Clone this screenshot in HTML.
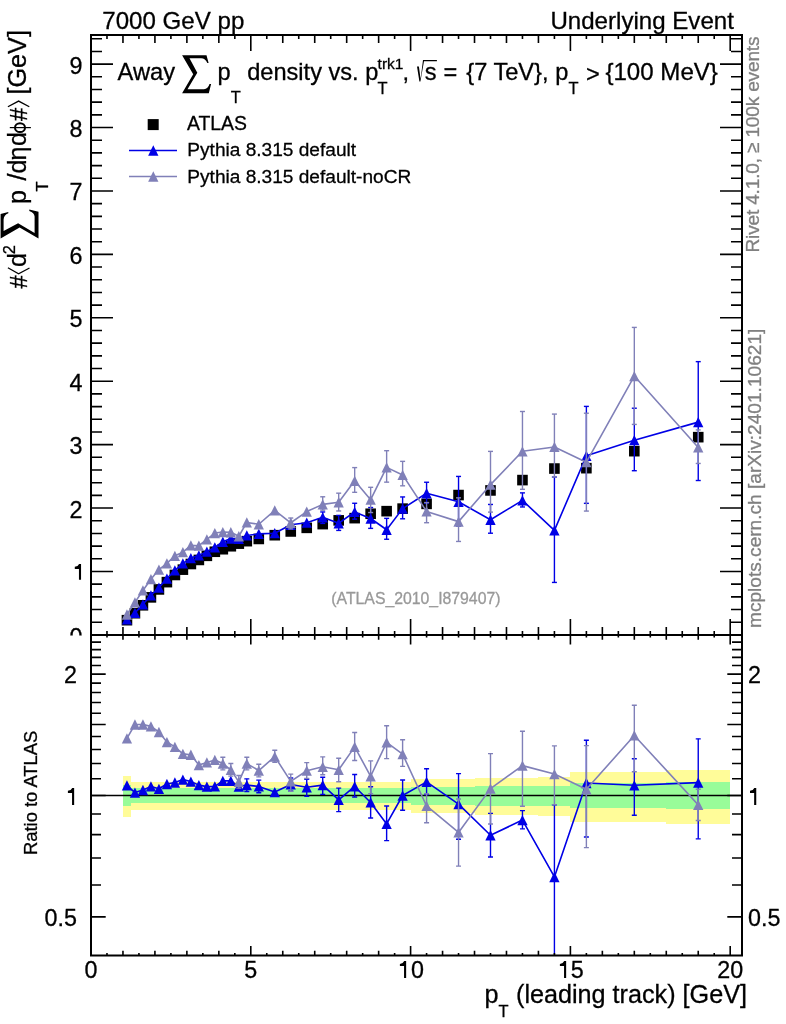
<!DOCTYPE html><html><head><meta charset="utf-8"><style>html,body{margin:0;padding:0;background:#fff;width:786px;height:1024px;overflow:hidden;position:relative}text{font-family:"Liberation Sans", sans-serif}</style></head><body><svg width="786" height="1024" viewBox="0 0 786 1024" style="position:absolute;left:0;top:0;will-change:transform"><defs><clipPath id="cm"><rect x="91" y="35" width="651" height="600"/></clipPath><clipPath id="cr"><rect x="91" y="635" width="651" height="320.5"/></clipPath></defs><g clip-path="url(#cr)" shape-rendering="crispEdges"><rect x="122.96" y="776.20" width="7.99" height="40.40" fill="#fffc99"/><rect x="130.95" y="782.10" width="7.99" height="27.60" fill="#fffc99"/><rect x="138.94" y="782.10" width="7.99" height="27.60" fill="#fffc99"/><rect x="146.93" y="782.10" width="7.99" height="27.60" fill="#fffc99"/><rect x="154.92" y="782.10" width="7.99" height="27.60" fill="#fffc99"/><rect x="162.91" y="782.10" width="7.99" height="27.60" fill="#fffc99"/><rect x="170.90" y="782.10" width="7.99" height="27.60" fill="#fffc99"/><rect x="178.89" y="782.10" width="7.99" height="27.60" fill="#fffc99"/><rect x="186.88" y="782.10" width="7.99" height="27.60" fill="#fffc99"/><rect x="194.87" y="782.10" width="7.99" height="27.60" fill="#fffc99"/><rect x="202.86" y="782.10" width="7.99" height="27.60" fill="#fffc99"/><rect x="210.85" y="782.10" width="7.99" height="27.60" fill="#fffc99"/><rect x="218.84" y="782.10" width="7.99" height="27.60" fill="#fffc99"/><rect x="226.83" y="782.10" width="7.99" height="27.60" fill="#fffc99"/><rect x="234.82" y="782.10" width="7.99" height="27.60" fill="#fffc99"/><rect x="242.81" y="782.10" width="7.99" height="27.60" fill="#fffc99"/><rect x="250.80" y="782.10" width="15.98" height="27.60" fill="#fffc99"/><rect x="266.78" y="782.10" width="15.98" height="27.60" fill="#fffc99"/><rect x="282.76" y="782.10" width="15.98" height="27.60" fill="#fffc99"/><rect x="298.74" y="782.10" width="15.98" height="27.60" fill="#fffc99"/><rect x="314.72" y="782.10" width="15.98" height="27.60" fill="#fffc99"/><rect x="330.70" y="782.10" width="15.98" height="27.60" fill="#fffc99"/><rect x="346.68" y="782.10" width="15.98" height="27.60" fill="#fffc99"/><rect x="362.66" y="782.10" width="15.98" height="27.60" fill="#fffc99"/><rect x="378.64" y="782.10" width="15.98" height="27.60" fill="#fffc99"/><rect x="394.62" y="782.10" width="15.98" height="27.60" fill="#fffc99"/><rect x="410.60" y="779.40" width="31.96" height="33.20" fill="#fffc99"/><rect x="442.56" y="778.70" width="31.96" height="34.50" fill="#fffc99"/><rect x="474.52" y="777.90" width="31.96" height="36.60" fill="#fffc99"/><rect x="506.48" y="777.90" width="31.96" height="36.60" fill="#fffc99"/><rect x="538.44" y="777.00" width="31.96" height="38.70" fill="#fffc99"/><rect x="570.40" y="772.30" width="31.96" height="49.50" fill="#fffc99"/><rect x="602.36" y="772.30" width="63.92" height="49.50" fill="#fffc99"/><rect x="666.28" y="770.20" width="63.92" height="54.20" fill="#fffc99"/><rect x="122.96" y="785.00" width="7.99" height="20.50" fill="#99fc99"/><rect x="130.95" y="788.40" width="7.99" height="14.20" fill="#99fc99"/><rect x="138.94" y="788.40" width="7.99" height="14.20" fill="#99fc99"/><rect x="146.93" y="788.40" width="7.99" height="14.20" fill="#99fc99"/><rect x="154.92" y="788.40" width="7.99" height="14.20" fill="#99fc99"/><rect x="162.91" y="788.40" width="7.99" height="14.20" fill="#99fc99"/><rect x="170.90" y="788.40" width="7.99" height="14.20" fill="#99fc99"/><rect x="178.89" y="788.40" width="7.99" height="14.20" fill="#99fc99"/><rect x="186.88" y="788.40" width="7.99" height="14.20" fill="#99fc99"/><rect x="194.87" y="788.40" width="7.99" height="14.20" fill="#99fc99"/><rect x="202.86" y="788.40" width="7.99" height="14.20" fill="#99fc99"/><rect x="210.85" y="788.40" width="7.99" height="14.20" fill="#99fc99"/><rect x="218.84" y="788.40" width="7.99" height="14.20" fill="#99fc99"/><rect x="226.83" y="788.40" width="7.99" height="14.20" fill="#99fc99"/><rect x="234.82" y="788.40" width="7.99" height="14.20" fill="#99fc99"/><rect x="242.81" y="788.40" width="7.99" height="14.20" fill="#99fc99"/><rect x="250.80" y="788.40" width="15.98" height="14.20" fill="#99fc99"/><rect x="266.78" y="788.40" width="15.98" height="14.20" fill="#99fc99"/><rect x="282.76" y="788.40" width="15.98" height="14.20" fill="#99fc99"/><rect x="298.74" y="788.40" width="15.98" height="14.20" fill="#99fc99"/><rect x="314.72" y="788.40" width="15.98" height="14.20" fill="#99fc99"/><rect x="330.70" y="788.40" width="15.98" height="14.20" fill="#99fc99"/><rect x="346.68" y="788.40" width="15.98" height="14.20" fill="#99fc99"/><rect x="362.66" y="788.40" width="15.98" height="14.20" fill="#99fc99"/><rect x="378.64" y="788.40" width="15.98" height="14.20" fill="#99fc99"/><rect x="394.62" y="788.40" width="15.98" height="14.20" fill="#99fc99"/><rect x="410.60" y="786.80" width="31.96" height="18.00" fill="#99fc99"/><rect x="442.56" y="786.60" width="31.96" height="18.40" fill="#99fc99"/><rect x="474.52" y="786.20" width="31.96" height="19.40" fill="#99fc99"/><rect x="506.48" y="786.20" width="31.96" height="19.40" fill="#99fc99"/><rect x="538.44" y="785.50" width="31.96" height="20.50" fill="#99fc99"/><rect x="570.40" y="782.80" width="31.96" height="25.50" fill="#99fc99"/><rect x="602.36" y="782.80" width="63.92" height="25.50" fill="#99fc99"/><rect x="666.28" y="782.40" width="63.92" height="26.70" fill="#99fc99"/></g><line x1="91" y1="795.50" x2="742" y2="795.50" stroke="#000" stroke-width="1.7"/><g clip-path="url(#cr)"><polyline points="126.95,785.46 134.94,792.55 142.94,789.98 150.93,786.45 158.92,788.80 166.91,783.98 174.89,782.51 182.88,779.60 190.88,781.53 198.87,785.13 206.86,786.62 214.84,786.45 222.84,780.89 230.83,780.89 238.81,786.62 246.81,785.13 258.79,786.45 274.77,792.03 290.75,784.47 306.73,787.29 322.71,785.13 338.69,799.93 354.67,786.45 370.65,802.47 386.63,823.97 402.61,795.50 426.58,781.86 458.54,804.12 490.50,835.24 522.46,820.09 554.42,876.98 586.38,783.00 634.32,785.29 698.24,782.67" fill="none" stroke="#0000e6" stroke-width="1.6" stroke-linejoin="round"/><line x1="246.81" y1="778.83" x2="246.81" y2="791.43" stroke="#0000e6" stroke-width="1.4"/><line x1="244.31" y1="778.83" x2="249.31" y2="778.83" stroke="#0000e6" stroke-width="1.4"/><line x1="244.31" y1="791.43" x2="249.31" y2="791.43" stroke="#0000e6" stroke-width="1.4"/><line x1="258.79" y1="780.15" x2="258.79" y2="792.75" stroke="#0000e6" stroke-width="1.4"/><line x1="256.29" y1="780.15" x2="261.29" y2="780.15" stroke="#0000e6" stroke-width="1.4"/><line x1="256.29" y1="792.75" x2="261.29" y2="792.75" stroke="#0000e6" stroke-width="1.4"/><line x1="290.75" y1="778.00" x2="290.75" y2="791.00" stroke="#0000e6" stroke-width="1.4"/><line x1="288.25" y1="778.00" x2="293.25" y2="778.00" stroke="#0000e6" stroke-width="1.4"/><line x1="288.25" y1="791.00" x2="293.25" y2="791.00" stroke="#0000e6" stroke-width="1.4"/><line x1="306.73" y1="779.20" x2="306.73" y2="796.30" stroke="#0000e6" stroke-width="1.4"/><line x1="304.23" y1="779.20" x2="309.23" y2="779.20" stroke="#0000e6" stroke-width="1.4"/><line x1="304.23" y1="796.30" x2="309.23" y2="796.30" stroke="#0000e6" stroke-width="1.4"/><line x1="322.71" y1="777.30" x2="322.71" y2="794.40" stroke="#0000e6" stroke-width="1.4"/><line x1="320.21" y1="777.30" x2="325.21" y2="777.30" stroke="#0000e6" stroke-width="1.4"/><line x1="320.21" y1="794.40" x2="325.21" y2="794.40" stroke="#0000e6" stroke-width="1.4"/><line x1="338.69" y1="788.10" x2="338.69" y2="811.60" stroke="#0000e6" stroke-width="1.4"/><line x1="336.19" y1="788.10" x2="341.19" y2="788.10" stroke="#0000e6" stroke-width="1.4"/><line x1="336.19" y1="811.60" x2="341.19" y2="811.60" stroke="#0000e6" stroke-width="1.4"/><line x1="354.67" y1="774.50" x2="354.67" y2="797.00" stroke="#0000e6" stroke-width="1.4"/><line x1="352.17" y1="774.50" x2="357.17" y2="774.50" stroke="#0000e6" stroke-width="1.4"/><line x1="352.17" y1="797.00" x2="357.17" y2="797.00" stroke="#0000e6" stroke-width="1.4"/><line x1="370.65" y1="786.70" x2="370.65" y2="818.00" stroke="#0000e6" stroke-width="1.4"/><line x1="368.15" y1="786.70" x2="373.15" y2="786.70" stroke="#0000e6" stroke-width="1.4"/><line x1="368.15" y1="818.00" x2="373.15" y2="818.00" stroke="#0000e6" stroke-width="1.4"/><line x1="386.63" y1="806.00" x2="386.63" y2="840.60" stroke="#0000e6" stroke-width="1.4"/><line x1="384.13" y1="806.00" x2="389.13" y2="806.00" stroke="#0000e6" stroke-width="1.4"/><line x1="384.13" y1="840.60" x2="389.13" y2="840.60" stroke="#0000e6" stroke-width="1.4"/><line x1="402.61" y1="780.00" x2="402.61" y2="810.20" stroke="#0000e6" stroke-width="1.4"/><line x1="400.11" y1="780.00" x2="405.11" y2="780.00" stroke="#0000e6" stroke-width="1.4"/><line x1="400.11" y1="810.20" x2="405.11" y2="810.20" stroke="#0000e6" stroke-width="1.4"/><line x1="426.58" y1="768.75" x2="426.58" y2="794.50" stroke="#0000e6" stroke-width="1.4"/><line x1="424.08" y1="768.75" x2="429.08" y2="768.75" stroke="#0000e6" stroke-width="1.4"/><line x1="424.08" y1="794.50" x2="429.08" y2="794.50" stroke="#0000e6" stroke-width="1.4"/><line x1="458.54" y1="773.60" x2="458.54" y2="839.20" stroke="#0000e6" stroke-width="1.4"/><line x1="456.04" y1="773.60" x2="461.04" y2="773.60" stroke="#0000e6" stroke-width="1.4"/><line x1="456.04" y1="839.20" x2="461.04" y2="839.20" stroke="#0000e6" stroke-width="1.4"/><line x1="490.50" y1="813.40" x2="490.50" y2="857.00" stroke="#0000e6" stroke-width="1.4"/><line x1="488.00" y1="813.40" x2="493.00" y2="813.40" stroke="#0000e6" stroke-width="1.4"/><line x1="488.00" y1="857.00" x2="493.00" y2="857.00" stroke="#0000e6" stroke-width="1.4"/><line x1="522.46" y1="810.60" x2="522.46" y2="828.90" stroke="#0000e6" stroke-width="1.4"/><line x1="519.96" y1="810.60" x2="524.96" y2="810.60" stroke="#0000e6" stroke-width="1.4"/><line x1="519.96" y1="828.90" x2="524.96" y2="828.90" stroke="#0000e6" stroke-width="1.4"/><line x1="554.42" y1="804.70" x2="554.42" y2="997.60" stroke="#0000e6" stroke-width="1.4"/><line x1="551.92" y1="804.70" x2="556.92" y2="804.70" stroke="#0000e6" stroke-width="1.4"/><line x1="551.92" y1="997.60" x2="556.92" y2="997.60" stroke="#0000e6" stroke-width="1.4"/><line x1="586.38" y1="740.30" x2="586.38" y2="837.00" stroke="#0000e6" stroke-width="1.4"/><line x1="583.88" y1="740.30" x2="588.88" y2="740.30" stroke="#0000e6" stroke-width="1.4"/><line x1="583.88" y1="837.00" x2="588.88" y2="837.00" stroke="#0000e6" stroke-width="1.4"/><line x1="634.32" y1="758.70" x2="634.32" y2="815.20" stroke="#0000e6" stroke-width="1.4"/><line x1="631.82" y1="758.70" x2="636.82" y2="758.70" stroke="#0000e6" stroke-width="1.4"/><line x1="631.82" y1="815.20" x2="636.82" y2="815.20" stroke="#0000e6" stroke-width="1.4"/><line x1="698.24" y1="738.85" x2="698.24" y2="838.85" stroke="#0000e6" stroke-width="1.4"/><line x1="695.74" y1="738.85" x2="700.74" y2="738.85" stroke="#0000e6" stroke-width="1.4"/><line x1="695.74" y1="838.85" x2="700.74" y2="838.85" stroke="#0000e6" stroke-width="1.4"/><path d="M121.80 790.61L132.10 790.61L126.95 780.31Z" fill="#0000e6"/><path d="M129.79 797.70L140.09 797.70L134.94 787.40Z" fill="#0000e6"/><path d="M137.78 795.13L148.09 795.13L142.94 784.83Z" fill="#0000e6"/><path d="M145.78 791.60L156.08 791.60L150.93 781.30Z" fill="#0000e6"/><path d="M153.77 793.95L164.07 793.95L158.92 783.65Z" fill="#0000e6"/><path d="M161.75 789.13L172.06 789.13L166.91 778.83Z" fill="#0000e6"/><path d="M169.74 787.66L180.04 787.66L174.89 777.36Z" fill="#0000e6"/><path d="M177.73 784.75L188.03 784.75L182.88 774.45Z" fill="#0000e6"/><path d="M185.72 786.68L196.03 786.68L190.88 776.38Z" fill="#0000e6"/><path d="M193.72 790.28L204.02 790.28L198.87 779.98Z" fill="#0000e6"/><path d="M201.71 791.77L212.01 791.77L206.86 781.47Z" fill="#0000e6"/><path d="M209.69 791.60L220.00 791.60L214.84 781.30Z" fill="#0000e6"/><path d="M217.69 786.04L227.99 786.04L222.84 775.74Z" fill="#0000e6"/><path d="M225.68 786.04L235.98 786.04L230.83 775.74Z" fill="#0000e6"/><path d="M233.66 791.77L243.97 791.77L238.81 781.47Z" fill="#0000e6"/><path d="M241.66 790.28L251.96 790.28L246.81 779.98Z" fill="#0000e6"/><path d="M253.64 791.60L263.94 791.60L258.79 781.30Z" fill="#0000e6"/><path d="M269.62 797.18L279.92 797.18L274.77 786.88Z" fill="#0000e6"/><path d="M285.60 789.62L295.90 789.62L290.75 779.32Z" fill="#0000e6"/><path d="M301.58 792.44L311.88 792.44L306.73 782.14Z" fill="#0000e6"/><path d="M317.56 790.28L327.86 790.28L322.71 779.98Z" fill="#0000e6"/><path d="M333.54 805.08L343.84 805.08L338.69 794.78Z" fill="#0000e6"/><path d="M349.52 791.60L359.82 791.60L354.67 781.30Z" fill="#0000e6"/><path d="M365.50 807.62L375.80 807.62L370.65 797.32Z" fill="#0000e6"/><path d="M381.48 829.12L391.78 829.12L386.63 818.82Z" fill="#0000e6"/><path d="M397.46 800.65L407.76 800.65L402.61 790.35Z" fill="#0000e6"/><path d="M421.43 787.01L431.73 787.01L426.58 776.71Z" fill="#0000e6"/><path d="M453.39 809.27L463.69 809.27L458.54 798.97Z" fill="#0000e6"/><path d="M485.35 840.39L495.65 840.39L490.50 830.09Z" fill="#0000e6"/><path d="M517.31 825.24L527.61 825.24L522.46 814.94Z" fill="#0000e6"/><path d="M549.27 882.13L559.57 882.13L554.42 871.83Z" fill="#0000e6"/><path d="M581.23 788.15L591.53 788.15L586.38 777.85Z" fill="#0000e6"/><path d="M629.17 790.44L639.47 790.44L634.32 780.14Z" fill="#0000e6"/><path d="M693.09 787.82L703.39 787.82L698.24 777.52Z" fill="#0000e6"/><polyline points="126.95,738.33 134.94,724.48 142.94,724.48 150.93,726.36 158.92,732.00 166.91,742.03 174.89,746.87 182.88,753.91 190.88,754.74 198.87,765.03 206.86,762.40 214.84,759.95 222.84,763.57 230.83,769.81 238.81,781.86 246.81,763.57 258.79,770.56 274.77,756.56 290.75,781.37 306.73,770.72 322.71,766.81 338.69,769.81 354.67,746.87 370.65,776.28 386.63,742.42 402.61,754.05 426.58,805.97 458.54,832.41 490.50,788.63 522.46,765.62 554.42,774.09 586.38,789.31 634.32,735.44 698.24,804.85" fill="none" stroke="#8080b8" stroke-width="1.6" stroke-linejoin="round"/><line x1="222.84" y1="757.27" x2="222.84" y2="769.87" stroke="#8080b8" stroke-width="1.4"/><line x1="220.34" y1="757.27" x2="225.34" y2="757.27" stroke="#8080b8" stroke-width="1.4"/><line x1="220.34" y1="769.87" x2="225.34" y2="769.87" stroke="#8080b8" stroke-width="1.4"/><line x1="230.83" y1="763.51" x2="230.83" y2="776.11" stroke="#8080b8" stroke-width="1.4"/><line x1="228.33" y1="763.51" x2="233.33" y2="763.51" stroke="#8080b8" stroke-width="1.4"/><line x1="228.33" y1="776.11" x2="233.33" y2="776.11" stroke="#8080b8" stroke-width="1.4"/><line x1="238.81" y1="775.56" x2="238.81" y2="788.16" stroke="#8080b8" stroke-width="1.4"/><line x1="236.31" y1="775.56" x2="241.31" y2="775.56" stroke="#8080b8" stroke-width="1.4"/><line x1="236.31" y1="788.16" x2="241.31" y2="788.16" stroke="#8080b8" stroke-width="1.4"/><line x1="246.81" y1="757.27" x2="246.81" y2="769.87" stroke="#8080b8" stroke-width="1.4"/><line x1="244.31" y1="757.27" x2="249.31" y2="757.27" stroke="#8080b8" stroke-width="1.4"/><line x1="244.31" y1="769.87" x2="249.31" y2="769.87" stroke="#8080b8" stroke-width="1.4"/><line x1="258.79" y1="764.26" x2="258.79" y2="776.86" stroke="#8080b8" stroke-width="1.4"/><line x1="256.29" y1="764.26" x2="261.29" y2="764.26" stroke="#8080b8" stroke-width="1.4"/><line x1="256.29" y1="776.86" x2="261.29" y2="776.86" stroke="#8080b8" stroke-width="1.4"/><line x1="274.77" y1="750.30" x2="274.77" y2="762.30" stroke="#8080b8" stroke-width="1.4"/><line x1="272.27" y1="750.30" x2="277.27" y2="750.30" stroke="#8080b8" stroke-width="1.4"/><line x1="272.27" y1="762.30" x2="277.27" y2="762.30" stroke="#8080b8" stroke-width="1.4"/><line x1="290.75" y1="774.10" x2="290.75" y2="791.20" stroke="#8080b8" stroke-width="1.4"/><line x1="288.25" y1="774.10" x2="293.25" y2="774.10" stroke="#8080b8" stroke-width="1.4"/><line x1="288.25" y1="791.20" x2="293.25" y2="791.20" stroke="#8080b8" stroke-width="1.4"/><line x1="306.73" y1="762.60" x2="306.73" y2="778.50" stroke="#8080b8" stroke-width="1.4"/><line x1="304.23" y1="762.60" x2="309.23" y2="762.60" stroke="#8080b8" stroke-width="1.4"/><line x1="304.23" y1="778.50" x2="309.23" y2="778.50" stroke="#8080b8" stroke-width="1.4"/><line x1="322.71" y1="756.90" x2="322.71" y2="774.70" stroke="#8080b8" stroke-width="1.4"/><line x1="320.21" y1="756.90" x2="325.21" y2="756.90" stroke="#8080b8" stroke-width="1.4"/><line x1="320.21" y1="774.70" x2="325.21" y2="774.70" stroke="#8080b8" stroke-width="1.4"/><line x1="338.69" y1="758.20" x2="338.69" y2="781.70" stroke="#8080b8" stroke-width="1.4"/><line x1="336.19" y1="758.20" x2="341.19" y2="758.20" stroke="#8080b8" stroke-width="1.4"/><line x1="336.19" y1="781.70" x2="341.19" y2="781.70" stroke="#8080b8" stroke-width="1.4"/><line x1="354.67" y1="732.50" x2="354.67" y2="760.50" stroke="#8080b8" stroke-width="1.4"/><line x1="352.17" y1="732.50" x2="357.17" y2="732.50" stroke="#8080b8" stroke-width="1.4"/><line x1="352.17" y1="760.50" x2="357.17" y2="760.50" stroke="#8080b8" stroke-width="1.4"/><line x1="370.65" y1="760.90" x2="370.65" y2="793.75" stroke="#8080b8" stroke-width="1.4"/><line x1="368.15" y1="760.90" x2="373.15" y2="760.90" stroke="#8080b8" stroke-width="1.4"/><line x1="368.15" y1="793.75" x2="373.15" y2="793.75" stroke="#8080b8" stroke-width="1.4"/><line x1="386.63" y1="725.80" x2="386.63" y2="758.60" stroke="#8080b8" stroke-width="1.4"/><line x1="384.13" y1="725.80" x2="389.13" y2="725.80" stroke="#8080b8" stroke-width="1.4"/><line x1="384.13" y1="758.60" x2="389.13" y2="758.60" stroke="#8080b8" stroke-width="1.4"/><line x1="402.61" y1="739.80" x2="402.61" y2="766.40" stroke="#8080b8" stroke-width="1.4"/><line x1="400.11" y1="739.80" x2="405.11" y2="739.80" stroke="#8080b8" stroke-width="1.4"/><line x1="400.11" y1="766.40" x2="405.11" y2="766.40" stroke="#8080b8" stroke-width="1.4"/><line x1="426.58" y1="793.75" x2="426.58" y2="822.70" stroke="#8080b8" stroke-width="1.4"/><line x1="424.08" y1="793.75" x2="429.08" y2="793.75" stroke="#8080b8" stroke-width="1.4"/><line x1="424.08" y1="822.70" x2="429.08" y2="822.70" stroke="#8080b8" stroke-width="1.4"/><line x1="458.54" y1="799.00" x2="458.54" y2="866.10" stroke="#8080b8" stroke-width="1.4"/><line x1="456.04" y1="799.00" x2="461.04" y2="799.00" stroke="#8080b8" stroke-width="1.4"/><line x1="456.04" y1="866.10" x2="461.04" y2="866.10" stroke="#8080b8" stroke-width="1.4"/><line x1="490.50" y1="753.60" x2="490.50" y2="824.00" stroke="#8080b8" stroke-width="1.4"/><line x1="488.00" y1="753.60" x2="493.00" y2="753.60" stroke="#8080b8" stroke-width="1.4"/><line x1="488.00" y1="824.00" x2="493.00" y2="824.00" stroke="#8080b8" stroke-width="1.4"/><line x1="522.46" y1="731.25" x2="522.46" y2="806.25" stroke="#8080b8" stroke-width="1.4"/><line x1="519.96" y1="731.25" x2="524.96" y2="731.25" stroke="#8080b8" stroke-width="1.4"/><line x1="519.96" y1="806.25" x2="524.96" y2="806.25" stroke="#8080b8" stroke-width="1.4"/><line x1="554.42" y1="745.90" x2="554.42" y2="804.70" stroke="#8080b8" stroke-width="1.4"/><line x1="551.92" y1="745.90" x2="556.92" y2="745.90" stroke="#8080b8" stroke-width="1.4"/><line x1="551.92" y1="804.70" x2="556.92" y2="804.70" stroke="#8080b8" stroke-width="1.4"/><line x1="586.38" y1="745.60" x2="586.38" y2="847.60" stroke="#8080b8" stroke-width="1.4"/><line x1="583.88" y1="745.60" x2="588.88" y2="745.60" stroke="#8080b8" stroke-width="1.4"/><line x1="583.88" y1="847.60" x2="588.88" y2="847.60" stroke="#8080b8" stroke-width="1.4"/><line x1="634.32" y1="705.30" x2="634.32" y2="771.70" stroke="#8080b8" stroke-width="1.4"/><line x1="631.82" y1="705.30" x2="636.82" y2="705.30" stroke="#8080b8" stroke-width="1.4"/><line x1="631.82" y1="771.70" x2="636.82" y2="771.70" stroke="#8080b8" stroke-width="1.4"/><line x1="698.24" y1="789.20" x2="698.24" y2="820.50" stroke="#8080b8" stroke-width="1.4"/><line x1="695.74" y1="789.20" x2="700.74" y2="789.20" stroke="#8080b8" stroke-width="1.4"/><line x1="695.74" y1="820.50" x2="700.74" y2="820.50" stroke="#8080b8" stroke-width="1.4"/><path d="M121.80 743.48L132.10 743.48L126.95 733.18Z" fill="#8080b8"/><path d="M129.79 729.63L140.09 729.63L134.94 719.33Z" fill="#8080b8"/><path d="M137.78 729.63L148.09 729.63L142.94 719.33Z" fill="#8080b8"/><path d="M145.78 731.51L156.08 731.51L150.93 721.21Z" fill="#8080b8"/><path d="M153.77 737.15L164.07 737.15L158.92 726.85Z" fill="#8080b8"/><path d="M161.75 747.18L172.06 747.18L166.91 736.88Z" fill="#8080b8"/><path d="M169.74 752.02L180.04 752.02L174.89 741.72Z" fill="#8080b8"/><path d="M177.73 759.06L188.03 759.06L182.88 748.76Z" fill="#8080b8"/><path d="M185.72 759.89L196.03 759.89L190.88 749.59Z" fill="#8080b8"/><path d="M193.72 770.18L204.02 770.18L198.87 759.88Z" fill="#8080b8"/><path d="M201.71 767.55L212.01 767.55L206.86 757.25Z" fill="#8080b8"/><path d="M209.69 765.10L220.00 765.10L214.84 754.80Z" fill="#8080b8"/><path d="M217.69 768.72L227.99 768.72L222.84 758.42Z" fill="#8080b8"/><path d="M225.68 774.96L235.98 774.96L230.83 764.66Z" fill="#8080b8"/><path d="M233.66 787.01L243.97 787.01L238.81 776.71Z" fill="#8080b8"/><path d="M241.66 768.72L251.96 768.72L246.81 758.42Z" fill="#8080b8"/><path d="M253.64 775.71L263.94 775.71L258.79 765.41Z" fill="#8080b8"/><path d="M269.62 761.71L279.92 761.71L274.77 751.41Z" fill="#8080b8"/><path d="M285.60 786.52L295.90 786.52L290.75 776.22Z" fill="#8080b8"/><path d="M301.58 775.87L311.88 775.87L306.73 765.57Z" fill="#8080b8"/><path d="M317.56 771.96L327.86 771.96L322.71 761.66Z" fill="#8080b8"/><path d="M333.54 774.96L343.84 774.96L338.69 764.66Z" fill="#8080b8"/><path d="M349.52 752.02L359.82 752.02L354.67 741.72Z" fill="#8080b8"/><path d="M365.50 781.43L375.80 781.43L370.65 771.13Z" fill="#8080b8"/><path d="M381.48 747.57L391.78 747.57L386.63 737.27Z" fill="#8080b8"/><path d="M397.46 759.20L407.76 759.20L402.61 748.90Z" fill="#8080b8"/><path d="M421.43 811.12L431.73 811.12L426.58 800.82Z" fill="#8080b8"/><path d="M453.39 837.56L463.69 837.56L458.54 827.26Z" fill="#8080b8"/><path d="M485.35 793.78L495.65 793.78L490.50 783.48Z" fill="#8080b8"/><path d="M517.31 770.77L527.61 770.77L522.46 760.47Z" fill="#8080b8"/><path d="M549.27 779.24L559.57 779.24L554.42 768.94Z" fill="#8080b8"/><path d="M581.23 794.46L591.53 794.46L586.38 784.16Z" fill="#8080b8"/><path d="M629.17 740.59L639.47 740.59L634.32 730.29Z" fill="#8080b8"/><path d="M693.09 810.00L703.39 810.00L698.24 799.70Z" fill="#8080b8"/></g><g clip-path="url(#cm)"><rect x="121.66" y="614.89" width="10.60" height="10.60" fill="#000"/><rect x="129.64" y="607.91" width="10.60" height="10.60" fill="#000"/><rect x="137.63" y="599.98" width="10.60" height="10.60" fill="#000"/><rect x="145.62" y="592.06" width="10.60" height="10.60" fill="#000"/><rect x="153.62" y="584.13" width="10.60" height="10.60" fill="#000"/><rect x="161.60" y="576.83" width="10.60" height="10.60" fill="#000"/><rect x="169.59" y="569.67" width="10.60" height="10.60" fill="#000"/><rect x="177.58" y="564.34" width="10.60" height="10.60" fill="#000"/><rect x="185.57" y="558.70" width="10.60" height="10.60" fill="#000"/><rect x="193.56" y="554.64" width="10.60" height="10.60" fill="#000"/><rect x="201.56" y="550.52" width="10.60" height="10.60" fill="#000"/><rect x="209.54" y="546.46" width="10.60" height="10.60" fill="#000"/><rect x="217.53" y="543.92" width="10.60" height="10.60" fill="#000"/><rect x="225.53" y="540.94" width="10.60" height="10.60" fill="#000"/><rect x="233.51" y="538.34" width="10.60" height="10.60" fill="#000"/><rect x="241.50" y="535.87" width="10.60" height="10.60" fill="#000"/><rect x="253.49" y="533.65" width="10.60" height="10.60" fill="#000"/><rect x="269.47" y="529.90" width="10.60" height="10.60" fill="#000"/><rect x="285.45" y="526.16" width="10.60" height="10.60" fill="#000"/><rect x="301.43" y="522.55" width="10.60" height="10.60" fill="#000"/><rect x="317.41" y="518.81" width="10.60" height="10.60" fill="#000"/><rect x="333.39" y="515.06" width="10.60" height="10.60" fill="#000"/><rect x="349.37" y="512.84" width="10.60" height="10.60" fill="#000"/><rect x="365.35" y="508.47" width="10.60" height="10.60" fill="#000"/><rect x="381.33" y="505.87" width="10.60" height="10.60" fill="#000"/><rect x="397.31" y="503.33" width="10.60" height="10.60" fill="#000"/><rect x="421.28" y="498.57" width="10.60" height="10.60" fill="#000"/><rect x="453.24" y="489.76" width="10.60" height="10.60" fill="#000"/><rect x="485.20" y="485.13" width="10.60" height="10.60" fill="#000"/><rect x="517.16" y="474.79" width="10.60" height="10.60" fill="#000"/><rect x="549.12" y="463.25" width="10.60" height="10.60" fill="#000"/><rect x="581.08" y="462.87" width="10.60" height="10.60" fill="#000"/><rect x="629.02" y="445.87" width="10.60" height="10.60" fill="#000"/><rect x="692.94" y="431.86" width="10.60" height="10.60" fill="#000"/><polyline points="126.95,619.32 134.94,612.84 142.94,604.34 150.93,595.37 158.92,587.65 166.91,578.55 174.89,570.35 182.88,563.44 190.88,558.11 198.87,555.36 206.86,551.70 214.84,547.35 222.84,541.77 230.83,538.53 238.81,538.89 246.81,535.45 258.79,533.86 274.77,533.21 290.75,524.74 306.73,522.71 322.71,517.35 338.69,523.23 354.67,511.96 370.65,518.49 386.63,529.73 402.61,508.63 426.58,493.26 458.54,501.77 490.50,519.76 522.46,500.37 554.42,530.43 586.38,455.83 634.32,440.15 698.24,422.13" fill="none" stroke="#0000e6" stroke-width="1.6" stroke-linejoin="round"/><line x1="322.71" y1="511.97" x2="322.71" y2="523.41" stroke="#0000e6" stroke-width="1.4"/><line x1="320.21" y1="511.97" x2="325.21" y2="511.97" stroke="#0000e6" stroke-width="1.4"/><line x1="320.21" y1="523.41" x2="325.21" y2="523.41" stroke="#0000e6" stroke-width="1.4"/><line x1="338.69" y1="515.42" x2="338.69" y2="530.42" stroke="#0000e6" stroke-width="1.4"/><line x1="336.19" y1="515.42" x2="341.19" y2="515.42" stroke="#0000e6" stroke-width="1.4"/><line x1="336.19" y1="530.42" x2="341.19" y2="530.42" stroke="#0000e6" stroke-width="1.4"/><line x1="354.67" y1="503.27" x2="354.67" y2="519.14" stroke="#0000e6" stroke-width="1.4"/><line x1="352.17" y1="503.27" x2="357.17" y2="503.27" stroke="#0000e6" stroke-width="1.4"/><line x1="352.17" y1="519.14" x2="357.17" y2="519.14" stroke="#0000e6" stroke-width="1.4"/><line x1="370.65" y1="507.53" x2="370.65" y2="528.37" stroke="#0000e6" stroke-width="1.4"/><line x1="368.15" y1="507.53" x2="373.15" y2="507.53" stroke="#0000e6" stroke-width="1.4"/><line x1="368.15" y1="528.37" x2="373.15" y2="528.37" stroke="#0000e6" stroke-width="1.4"/><line x1="386.63" y1="518.37" x2="386.63" y2="539.26" stroke="#0000e6" stroke-width="1.4"/><line x1="384.13" y1="518.37" x2="389.13" y2="518.37" stroke="#0000e6" stroke-width="1.4"/><line x1="384.13" y1="539.26" x2="389.13" y2="539.26" stroke="#0000e6" stroke-width="1.4"/><line x1="402.61" y1="496.95" x2="402.61" y2="518.80" stroke="#0000e6" stroke-width="1.4"/><line x1="400.11" y1="496.95" x2="405.11" y2="496.95" stroke="#0000e6" stroke-width="1.4"/><line x1="400.11" y1="518.80" x2="405.11" y2="518.80" stroke="#0000e6" stroke-width="1.4"/><line x1="426.58" y1="482.25" x2="426.58" y2="503.12" stroke="#0000e6" stroke-width="1.4"/><line x1="424.08" y1="482.25" x2="429.08" y2="482.25" stroke="#0000e6" stroke-width="1.4"/><line x1="424.08" y1="503.12" x2="429.08" y2="503.12" stroke="#0000e6" stroke-width="1.4"/><line x1="458.54" y1="476.43" x2="458.54" y2="525.94" stroke="#0000e6" stroke-width="1.4"/><line x1="456.04" y1="476.43" x2="461.04" y2="476.43" stroke="#0000e6" stroke-width="1.4"/><line x1="456.04" y1="525.94" x2="461.04" y2="525.94" stroke="#0000e6" stroke-width="1.4"/><line x1="490.50" y1="504.46" x2="490.50" y2="533.21" stroke="#0000e6" stroke-width="1.4"/><line x1="488.00" y1="504.46" x2="493.00" y2="504.46" stroke="#0000e6" stroke-width="1.4"/><line x1="488.00" y1="533.21" x2="493.00" y2="533.21" stroke="#0000e6" stroke-width="1.4"/><line x1="522.46" y1="492.88" x2="522.46" y2="506.97" stroke="#0000e6" stroke-width="1.4"/><line x1="519.96" y1="492.88" x2="524.96" y2="492.88" stroke="#0000e6" stroke-width="1.4"/><line x1="519.96" y1="506.97" x2="524.96" y2="506.97" stroke="#0000e6" stroke-width="1.4"/><line x1="554.42" y1="477.06" x2="554.42" y2="582.43" stroke="#0000e6" stroke-width="1.4"/><line x1="551.92" y1="477.06" x2="556.92" y2="477.06" stroke="#0000e6" stroke-width="1.4"/><line x1="551.92" y1="582.43" x2="556.92" y2="582.43" stroke="#0000e6" stroke-width="1.4"/><line x1="586.38" y1="406.40" x2="586.38" y2="503.34" stroke="#0000e6" stroke-width="1.4"/><line x1="583.88" y1="406.40" x2="588.88" y2="406.40" stroke="#0000e6" stroke-width="1.4"/><line x1="583.88" y1="503.34" x2="588.88" y2="503.34" stroke="#0000e6" stroke-width="1.4"/><line x1="634.32" y1="408.22" x2="634.32" y2="470.72" stroke="#0000e6" stroke-width="1.4"/><line x1="631.82" y1="408.22" x2="636.82" y2="408.22" stroke="#0000e6" stroke-width="1.4"/><line x1="631.82" y1="470.72" x2="636.82" y2="470.72" stroke="#0000e6" stroke-width="1.4"/><line x1="698.24" y1="361.64" x2="698.24" y2="480.51" stroke="#0000e6" stroke-width="1.4"/><line x1="695.74" y1="361.64" x2="700.74" y2="361.64" stroke="#0000e6" stroke-width="1.4"/><line x1="695.74" y1="480.51" x2="700.74" y2="480.51" stroke="#0000e6" stroke-width="1.4"/><path d="M121.80 624.47L132.10 624.47L126.95 614.17Z" fill="#0000e6"/><path d="M129.79 617.99L140.09 617.99L134.94 607.69Z" fill="#0000e6"/><path d="M137.78 609.49L148.09 609.49L142.94 599.19Z" fill="#0000e6"/><path d="M145.78 600.52L156.08 600.52L150.93 590.22Z" fill="#0000e6"/><path d="M153.77 592.80L164.07 592.80L158.92 582.50Z" fill="#0000e6"/><path d="M161.75 583.70L172.06 583.70L166.91 573.40Z" fill="#0000e6"/><path d="M169.74 575.50L180.04 575.50L174.89 565.20Z" fill="#0000e6"/><path d="M177.73 568.59L188.03 568.59L182.88 558.29Z" fill="#0000e6"/><path d="M185.72 563.26L196.03 563.26L190.88 552.96Z" fill="#0000e6"/><path d="M193.72 560.51L204.02 560.51L198.87 550.21Z" fill="#0000e6"/><path d="M201.71 556.85L212.01 556.85L206.86 546.55Z" fill="#0000e6"/><path d="M209.69 552.50L220.00 552.50L214.84 542.20Z" fill="#0000e6"/><path d="M217.69 546.92L227.99 546.92L222.84 536.62Z" fill="#0000e6"/><path d="M225.68 543.68L235.98 543.68L230.83 533.38Z" fill="#0000e6"/><path d="M233.66 544.04L243.97 544.04L238.81 533.74Z" fill="#0000e6"/><path d="M241.66 540.60L251.96 540.60L246.81 530.30Z" fill="#0000e6"/><path d="M253.64 539.01L263.94 539.01L258.79 528.71Z" fill="#0000e6"/><path d="M269.62 538.36L279.92 538.36L274.77 528.06Z" fill="#0000e6"/><path d="M285.60 529.89L295.90 529.89L290.75 519.59Z" fill="#0000e6"/><path d="M301.58 527.86L311.88 527.86L306.73 517.56Z" fill="#0000e6"/><path d="M317.56 522.50L327.86 522.50L322.71 512.20Z" fill="#0000e6"/><path d="M333.54 528.38L343.84 528.38L338.69 518.08Z" fill="#0000e6"/><path d="M349.52 517.11L359.82 517.11L354.67 506.81Z" fill="#0000e6"/><path d="M365.50 523.64L375.80 523.64L370.65 513.34Z" fill="#0000e6"/><path d="M381.48 534.88L391.78 534.88L386.63 524.58Z" fill="#0000e6"/><path d="M397.46 513.78L407.76 513.78L402.61 503.48Z" fill="#0000e6"/><path d="M421.43 498.41L431.73 498.41L426.58 488.11Z" fill="#0000e6"/><path d="M453.39 506.92L463.69 506.92L458.54 496.62Z" fill="#0000e6"/><path d="M485.35 524.91L495.65 524.91L490.50 514.61Z" fill="#0000e6"/><path d="M517.31 505.52L527.61 505.52L522.46 495.22Z" fill="#0000e6"/><path d="M549.27 535.58L559.57 535.58L554.42 525.28Z" fill="#0000e6"/><path d="M581.23 460.98L591.53 460.98L586.38 450.68Z" fill="#0000e6"/><path d="M629.17 445.30L639.47 445.30L634.32 435.00Z" fill="#0000e6"/><path d="M693.09 427.28L703.39 427.28L698.24 416.98Z" fill="#0000e6"/><polyline points="126.95,614.51 134.94,602.37 142.94,590.47 150.93,579.18 158.92,569.56 166.91,563.30 174.89,555.79 182.88,552.15 190.88,545.42 198.87,545.69 206.86,539.37 214.84,533.05 222.84,532.08 230.83,532.23 238.81,536.25 246.81,522.42 258.79,524.26 274.77,510.38 290.75,522.77 306.73,511.57 322.71,504.38 338.69,502.27 354.67,480.78 370.65,499.72 386.63,467.37 402.61,474.92 426.58,511.47 458.54,521.63 490.50,484.65 522.46,451.30 554.42,446.92 586.38,462.17 634.32,376.03 698.24,447.44" fill="none" stroke="#8080b8" stroke-width="1.6" stroke-linejoin="round"/><line x1="290.75" y1="518.02" x2="290.75" y2="528.89" stroke="#8080b8" stroke-width="1.4"/><line x1="288.25" y1="518.02" x2="293.25" y2="518.02" stroke="#8080b8" stroke-width="1.4"/><line x1="288.25" y1="528.89" x2="293.25" y2="528.89" stroke="#8080b8" stroke-width="1.4"/><line x1="322.71" y1="496.79" x2="322.71" y2="510.13" stroke="#8080b8" stroke-width="1.4"/><line x1="320.21" y1="496.79" x2="325.21" y2="496.79" stroke="#8080b8" stroke-width="1.4"/><line x1="320.21" y1="510.13" x2="325.21" y2="510.13" stroke="#8080b8" stroke-width="1.4"/><line x1="338.69" y1="493.18" x2="338.69" y2="510.97" stroke="#8080b8" stroke-width="1.4"/><line x1="336.19" y1="493.18" x2="341.19" y2="493.18" stroke="#8080b8" stroke-width="1.4"/><line x1="336.19" y1="510.97" x2="341.19" y2="510.97" stroke="#8080b8" stroke-width="1.4"/><line x1="354.67" y1="467.60" x2="354.67" y2="492.32" stroke="#8080b8" stroke-width="1.4"/><line x1="352.17" y1="467.60" x2="357.17" y2="467.60" stroke="#8080b8" stroke-width="1.4"/><line x1="352.17" y1="492.32" x2="357.17" y2="492.32" stroke="#8080b8" stroke-width="1.4"/><line x1="370.65" y1="487.31" x2="370.65" y2="512.55" stroke="#8080b8" stroke-width="1.4"/><line x1="368.15" y1="487.31" x2="373.15" y2="487.31" stroke="#8080b8" stroke-width="1.4"/><line x1="368.15" y1="512.55" x2="373.15" y2="512.55" stroke="#8080b8" stroke-width="1.4"/><line x1="386.63" y1="450.69" x2="386.63" y2="482.15" stroke="#8080b8" stroke-width="1.4"/><line x1="384.13" y1="450.69" x2="389.13" y2="450.69" stroke="#8080b8" stroke-width="1.4"/><line x1="384.13" y1="482.15" x2="389.13" y2="482.15" stroke="#8080b8" stroke-width="1.4"/><line x1="402.61" y1="461.36" x2="402.61" y2="485.81" stroke="#8080b8" stroke-width="1.4"/><line x1="400.11" y1="461.36" x2="405.11" y2="461.36" stroke="#8080b8" stroke-width="1.4"/><line x1="400.11" y1="485.81" x2="405.11" y2="485.81" stroke="#8080b8" stroke-width="1.4"/><line x1="426.58" y1="502.56" x2="426.58" y2="522.72" stroke="#8080b8" stroke-width="1.4"/><line x1="424.08" y1="502.56" x2="429.08" y2="502.56" stroke="#8080b8" stroke-width="1.4"/><line x1="424.08" y1="522.72" x2="429.08" y2="522.72" stroke="#8080b8" stroke-width="1.4"/><line x1="458.54" y1="497.83" x2="458.54" y2="541.45" stroke="#8080b8" stroke-width="1.4"/><line x1="456.04" y1="497.83" x2="461.04" y2="497.83" stroke="#8080b8" stroke-width="1.4"/><line x1="456.04" y1="541.45" x2="461.04" y2="541.45" stroke="#8080b8" stroke-width="1.4"/><line x1="490.50" y1="451.38" x2="490.50" y2="512.12" stroke="#8080b8" stroke-width="1.4"/><line x1="488.00" y1="451.38" x2="493.00" y2="451.38" stroke="#8080b8" stroke-width="1.4"/><line x1="488.00" y1="512.12" x2="493.00" y2="512.12" stroke="#8080b8" stroke-width="1.4"/><line x1="522.46" y1="411.49" x2="522.46" y2="489.31" stroke="#8080b8" stroke-width="1.4"/><line x1="519.96" y1="411.49" x2="524.96" y2="411.49" stroke="#8080b8" stroke-width="1.4"/><line x1="519.96" y1="489.31" x2="524.96" y2="489.31" stroke="#8080b8" stroke-width="1.4"/><line x1="554.42" y1="414.09" x2="554.42" y2="477.06" stroke="#8080b8" stroke-width="1.4"/><line x1="551.92" y1="414.09" x2="556.92" y2="414.09" stroke="#8080b8" stroke-width="1.4"/><line x1="551.92" y1="477.06" x2="556.92" y2="477.06" stroke="#8080b8" stroke-width="1.4"/><line x1="586.38" y1="413.21" x2="586.38" y2="511.07" stroke="#8080b8" stroke-width="1.4"/><line x1="583.88" y1="413.21" x2="588.88" y2="413.21" stroke="#8080b8" stroke-width="1.4"/><line x1="583.88" y1="511.07" x2="588.88" y2="511.07" stroke="#8080b8" stroke-width="1.4"/><line x1="634.32" y1="327.41" x2="634.32" y2="424.43" stroke="#8080b8" stroke-width="1.4"/><line x1="631.82" y1="327.41" x2="636.82" y2="327.41" stroke="#8080b8" stroke-width="1.4"/><line x1="631.82" y1="424.43" x2="636.82" y2="424.43" stroke="#8080b8" stroke-width="1.4"/><line x1="698.24" y1="429.91" x2="698.24" y2="463.46" stroke="#8080b8" stroke-width="1.4"/><line x1="695.74" y1="429.91" x2="700.74" y2="429.91" stroke="#8080b8" stroke-width="1.4"/><line x1="695.74" y1="463.46" x2="700.74" y2="463.46" stroke="#8080b8" stroke-width="1.4"/><path d="M121.80 619.66L132.10 619.66L126.95 609.36Z" fill="#8080b8"/><path d="M129.79 607.52L140.09 607.52L134.94 597.22Z" fill="#8080b8"/><path d="M137.78 595.62L148.09 595.62L142.94 585.32Z" fill="#8080b8"/><path d="M145.78 584.33L156.08 584.33L150.93 574.03Z" fill="#8080b8"/><path d="M153.77 574.71L164.07 574.71L158.92 564.41Z" fill="#8080b8"/><path d="M161.75 568.45L172.06 568.45L166.91 558.15Z" fill="#8080b8"/><path d="M169.74 560.94L180.04 560.94L174.89 550.64Z" fill="#8080b8"/><path d="M177.73 557.30L188.03 557.30L182.88 547.00Z" fill="#8080b8"/><path d="M185.72 550.57L196.03 550.57L190.88 540.27Z" fill="#8080b8"/><path d="M193.72 550.84L204.02 550.84L198.87 540.54Z" fill="#8080b8"/><path d="M201.71 544.52L212.01 544.52L206.86 534.22Z" fill="#8080b8"/><path d="M209.69 538.20L220.00 538.20L214.84 527.90Z" fill="#8080b8"/><path d="M217.69 537.23L227.99 537.23L222.84 526.93Z" fill="#8080b8"/><path d="M225.68 537.38L235.98 537.38L230.83 527.08Z" fill="#8080b8"/><path d="M233.66 541.40L243.97 541.40L238.81 531.10Z" fill="#8080b8"/><path d="M241.66 527.57L251.96 527.57L246.81 517.27Z" fill="#8080b8"/><path d="M253.64 529.41L263.94 529.41L258.79 519.11Z" fill="#8080b8"/><path d="M269.62 515.53L279.92 515.53L274.77 505.23Z" fill="#8080b8"/><path d="M285.60 527.92L295.90 527.92L290.75 517.62Z" fill="#8080b8"/><path d="M301.58 516.72L311.88 516.72L306.73 506.42Z" fill="#8080b8"/><path d="M317.56 509.53L327.86 509.53L322.71 499.23Z" fill="#8080b8"/><path d="M333.54 507.42L343.84 507.42L338.69 497.12Z" fill="#8080b8"/><path d="M349.52 485.93L359.82 485.93L354.67 475.63Z" fill="#8080b8"/><path d="M365.50 504.87L375.80 504.87L370.65 494.57Z" fill="#8080b8"/><path d="M381.48 472.52L391.78 472.52L386.63 462.22Z" fill="#8080b8"/><path d="M397.46 480.07L407.76 480.07L402.61 469.77Z" fill="#8080b8"/><path d="M421.43 516.62L431.73 516.62L426.58 506.32Z" fill="#8080b8"/><path d="M453.39 526.78L463.69 526.78L458.54 516.48Z" fill="#8080b8"/><path d="M485.35 489.80L495.65 489.80L490.50 479.50Z" fill="#8080b8"/><path d="M517.31 456.45L527.61 456.45L522.46 446.15Z" fill="#8080b8"/><path d="M549.27 452.07L559.57 452.07L554.42 441.77Z" fill="#8080b8"/><path d="M581.23 467.32L591.53 467.32L586.38 457.02Z" fill="#8080b8"/><path d="M629.17 381.18L639.47 381.18L634.32 370.88Z" fill="#8080b8"/><path d="M693.09 452.59L703.39 452.59L698.24 442.29Z" fill="#8080b8"/></g><path d="M91.00 635v-16M91.00 35v16M91.00 635v9.5M91.00 955.5v-9.5M106.98 635v-4M106.98 35v4M106.98 635v2.4M106.98 955.5v-2.4M122.96 635v-8M122.96 35v8M122.96 635v4.75M122.96 955.5v-4.75M138.94 635v-4M138.94 35v4M138.94 635v2.4M138.94 955.5v-2.4M154.92 635v-8M154.92 35v8M154.92 635v4.75M154.92 955.5v-4.75M170.90 635v-4M170.90 35v4M170.90 635v2.4M170.90 955.5v-2.4M186.88 635v-8M186.88 35v8M186.88 635v4.75M186.88 955.5v-4.75M202.86 635v-4M202.86 35v4M202.86 635v2.4M202.86 955.5v-2.4M218.84 635v-8M218.84 35v8M218.84 635v4.75M218.84 955.5v-4.75M234.82 635v-4M234.82 35v4M234.82 635v2.4M234.82 955.5v-2.4M250.80 635v-16M250.80 35v16M250.80 635v9.5M250.80 955.5v-9.5M266.78 635v-4M266.78 35v4M266.78 635v2.4M266.78 955.5v-2.4M282.76 635v-8M282.76 35v8M282.76 635v4.75M282.76 955.5v-4.75M298.74 635v-4M298.74 35v4M298.74 635v2.4M298.74 955.5v-2.4M314.72 635v-8M314.72 35v8M314.72 635v4.75M314.72 955.5v-4.75M330.70 635v-4M330.70 35v4M330.70 635v2.4M330.70 955.5v-2.4M346.68 635v-8M346.68 35v8M346.68 635v4.75M346.68 955.5v-4.75M362.66 635v-4M362.66 35v4M362.66 635v2.4M362.66 955.5v-2.4M378.64 635v-8M378.64 35v8M378.64 635v4.75M378.64 955.5v-4.75M394.62 635v-4M394.62 35v4M394.62 635v2.4M394.62 955.5v-2.4M410.60 635v-16M410.60 35v16M410.60 635v9.5M410.60 955.5v-9.5M426.58 635v-4M426.58 35v4M426.58 635v2.4M426.58 955.5v-2.4M442.56 635v-8M442.56 35v8M442.56 635v4.75M442.56 955.5v-4.75M458.54 635v-4M458.54 35v4M458.54 635v2.4M458.54 955.5v-2.4M474.52 635v-8M474.52 35v8M474.52 635v4.75M474.52 955.5v-4.75M490.50 635v-4M490.50 35v4M490.50 635v2.4M490.50 955.5v-2.4M506.48 635v-8M506.48 35v8M506.48 635v4.75M506.48 955.5v-4.75M522.46 635v-4M522.46 35v4M522.46 635v2.4M522.46 955.5v-2.4M538.44 635v-8M538.44 35v8M538.44 635v4.75M538.44 955.5v-4.75M554.42 635v-4M554.42 35v4M554.42 635v2.4M554.42 955.5v-2.4M570.40 635v-16M570.40 35v16M570.40 635v9.5M570.40 955.5v-9.5M586.38 635v-4M586.38 35v4M586.38 635v2.4M586.38 955.5v-2.4M602.36 635v-8M602.36 35v8M602.36 635v4.75M602.36 955.5v-4.75M618.34 635v-4M618.34 35v4M618.34 635v2.4M618.34 955.5v-2.4M634.32 635v-8M634.32 35v8M634.32 635v4.75M634.32 955.5v-4.75M650.30 635v-4M650.30 35v4M650.30 635v2.4M650.30 955.5v-2.4M666.28 635v-8M666.28 35v8M666.28 635v4.75M666.28 955.5v-4.75M682.26 635v-4M682.26 35v4M682.26 635v2.4M682.26 955.5v-2.4M698.24 635v-8M698.24 35v8M698.24 635v4.75M698.24 955.5v-4.75M714.22 635v-4M714.22 35v4M714.22 635v2.4M714.22 955.5v-2.4M730.20 635v-16M730.20 35v16M730.20 635v9.5M730.20 955.5v-9.5M91 634.90h22M742 634.90h-22M91 622.22h11M742 622.22h-11M91 609.53h11M742 609.53h-11M91 596.85h11M742 596.85h-11M91 584.16h11M742 584.16h-11M91 571.48h22M742 571.48h-22M91 558.80h11M742 558.80h-11M91 546.11h11M742 546.11h-11M91 533.43h11M742 533.43h-11M91 520.74h11M742 520.74h-11M91 508.06h22M742 508.06h-22M91 495.38h11M742 495.38h-11M91 482.69h11M742 482.69h-11M91 470.01h11M742 470.01h-11M91 457.32h11M742 457.32h-11M91 444.64h22M742 444.64h-22M91 431.96h11M742 431.96h-11M91 419.27h11M742 419.27h-11M91 406.59h11M742 406.59h-11M91 393.90h11M742 393.90h-11M91 381.22h22M742 381.22h-22M91 368.54h11M742 368.54h-11M91 355.85h11M742 355.85h-11M91 343.17h11M742 343.17h-11M91 330.48h11M742 330.48h-11M91 317.80h22M742 317.80h-22M91 305.12h11M742 305.12h-11M91 292.43h11M742 292.43h-11M91 279.75h11M742 279.75h-11M91 267.06h11M742 267.06h-11M91 254.38h22M742 254.38h-22M91 241.70h11M742 241.70h-11M91 229.01h11M742 229.01h-11M91 216.33h11M742 216.33h-11M91 203.64h11M742 203.64h-11M91 190.96h22M742 190.96h-22M91 178.28h11M742 178.28h-11M91 165.59h11M742 165.59h-11M91 152.91h11M742 152.91h-11M91 140.22h11M742 140.22h-11M91 127.54h22M742 127.54h-22M91 114.86h11M742 114.86h-11M91 102.17h11M742 102.17h-11M91 89.49h11M742 89.49h-11M91 76.80h11M742 76.80h-11M91 64.12h22M742 64.12h-22M91 51.44h11M742 51.44h-11M91 38.75h11M742 38.75h-11M91 916.91h14.7M742 916.91h-14.7M91 884.97h10M742 884.97h-10M91 857.97h10M742 857.97h-10M91 834.58h10M742 834.58h-10M91 813.95h10M742 813.95h-10M91 795.50h14.7M742 795.50h-14.7M91 778.81h10M742 778.81h-10M91 763.57h10M742 763.57h-10M91 749.55h10M742 749.55h-10M91 736.57h10M742 736.57h-10M91 724.48h14.7M742 724.48h-14.7M91 713.18h10M742 713.18h-10M91 702.56h10M742 702.56h-10M91 692.55h10M742 692.55h-10M91 683.08h10M742 683.08h-10M91 674.09h14.7M742 674.09h-14.7M91 665.55h10M742 665.55h-10M91 657.40h10M742 657.40h-10M91 649.62h10M742 649.62h-10M91 642.16h10M742 642.16h-10M91 635.01h10M742 635.01h-10" stroke="#000" stroke-width="1.6" fill="none"/><rect x="91" y="35" width="651" height="600" fill="none" stroke="#000" stroke-width="2"/><rect x="91" y="635" width="651" height="320.5" fill="none" stroke="#000" stroke-width="2"/><g font-family='"Liberation Sans", sans-serif'><text x="102.30" y="28.50" font-size="24.1" text-anchor="start" fill="#000" stroke="#000" stroke-width="0.3" >7000 GeV pp</text><text x="733.90" y="28.50" font-size="24.1" text-anchor="end" fill="#000" stroke="#000" stroke-width="0.3" >Underlying Event</text><clipPath id="c0"><rect x="0" y="0" width="91" height="635.5"/></clipPath><text x="82.50" y="645.30" font-size="23.3" text-anchor="end" fill="#000" stroke="#000" stroke-width="0.3" clip-path="url(#c0)">0</text><path d="M78.95 579.80V569.00H74.80V566.80Q78.10 566.60 79.10 564.00H81.05V579.80Z" fill="#000"/><text x="82.50" y="517.56" font-size="23.3" text-anchor="end" fill="#000" stroke="#000" stroke-width="0.3" >2</text><text x="82.50" y="454.14" font-size="23.3" text-anchor="end" fill="#000" stroke="#000" stroke-width="0.3" >3</text><text x="82.50" y="390.72" font-size="23.3" text-anchor="end" fill="#000" stroke="#000" stroke-width="0.3" >4</text><text x="82.50" y="327.30" font-size="23.3" text-anchor="end" fill="#000" stroke="#000" stroke-width="0.3" >5</text><text x="82.50" y="263.88" font-size="23.3" text-anchor="end" fill="#000" stroke="#000" stroke-width="0.3" >6</text><text x="82.50" y="200.46" font-size="23.3" text-anchor="end" fill="#000" stroke="#000" stroke-width="0.3" >7</text><text x="82.50" y="137.04" font-size="23.3" text-anchor="end" fill="#000" stroke="#000" stroke-width="0.3" >8</text><text x="82.50" y="73.62" font-size="23.3" text-anchor="end" fill="#000" stroke="#000" stroke-width="0.3" >9</text><text x="77.00" y="683.39" font-size="23.3" text-anchor="end" fill="#000" stroke="#000" stroke-width="0.3" >2</text><text x="748.00" y="683.39" font-size="23.3" text-anchor="start" fill="#000" stroke="#000" stroke-width="0.3" >2</text><text x="77.00" y="926.21" font-size="23.3" text-anchor="end" fill="#000" stroke="#000" stroke-width="0.3" >0.5</text><text x="748.00" y="926.21" font-size="23.3" text-anchor="start" fill="#000" stroke="#000" stroke-width="0.3" >0.5</text><path d="M72.05 805.10V793.00H67.90V790.80Q71.20 790.60 72.20 788.00H74.15V805.10Z" fill="#000"/><path d="M754.15 805.10V793.00H750.00V790.80Q753.30 790.60 754.30 788.00H756.25V805.10Z" fill="#000"/><text x="91.00" y="978.00" font-size="23.3" text-anchor="middle" fill="#000" stroke="#000" stroke-width="0.3" >0</text><text x="250.80" y="978.00" font-size="23.3" text-anchor="middle" fill="#000" stroke="#000" stroke-width="0.3" >5</text><text x="730.20" y="978.00" font-size="23.3" text-anchor="middle" fill="#000" stroke="#000" stroke-width="0.3" >20</text><path d="M404.05 977.90V966.10H399.90V963.90Q403.20 963.70 404.20 961.10H406.15V977.90Z" fill="#000"/><text x="411.10" y="978.00" font-size="23.3" text-anchor="start" fill="#000" stroke="#000" stroke-width="0.3" >0</text><path d="M564.05 977.90V966.10H559.90V963.90Q563.20 963.70 564.20 961.10H566.15V977.90Z" fill="#000"/><text x="570.80" y="978.00" font-size="23.3" text-anchor="start" fill="#000" stroke="#000" stroke-width="0.3" >5</text><rect x="147.70" y="119.10" width="11.00" height="11.00" fill="#000"/><text x="187.00" y="130.10" font-size="19.4" text-anchor="start" fill="#000" stroke="#000" stroke-width="0.3" >ATLAS</text><line x1="129" y1="150.5" x2="177" y2="150.5" stroke="#0000e6" stroke-width="1.5"/><path d="M148.15 155.65L158.45 155.65L153.30 145.35Z" fill="#0000e6"/><text x="187.30" y="155.70" font-size="19.1" text-anchor="start" fill="#000" stroke="#000" stroke-width="0.3" >Pythia 8.315 default</text><line x1="129" y1="176.4" x2="177" y2="176.4" stroke="#8080b8" stroke-width="1.5"/><path d="M148.15 181.65L158.45 181.65L153.30 171.35Z" fill="#8080b8"/><text x="187.30" y="183.10" font-size="19.1" text-anchor="start" fill="#000" stroke="#000" stroke-width="0.3" >Pythia 8.315 default-noCR</text><text x="415.90" y="604.00" font-size="15.8" text-anchor="middle" fill="#999" stroke="#999" stroke-width="0.3" >(ATLAS_2010_I879407)</text><text transform="translate(759.4,252.5) rotate(-90)" font-size="19.1" textLength="216" lengthAdjust="spacing" fill="#808080" stroke="#808080" stroke-width="0.3">Rivet 4.1.0, ≥ 100k events</text><text transform="translate(760.6,628) rotate(-90)" font-size="19.1" fill="#808080" stroke="#808080" stroke-width="0.3">mcplots.cern.ch [arXiv:2401.10621]</text><text transform="translate(36.8,855.0) rotate(-90)" font-size="19.2" textLength="124.2" lengthAdjust="spacingAndGlyphs" stroke="#000" stroke-width="0.3">Ratio to ATLAS</text><text x="117.60" y="79.60" font-size="23.7" text-anchor="start" fill="#000" stroke="#000" stroke-width="0.3" >Away</text><path transform="translate(182.10,55.30)" d="M0 0L24.4 0L26.5 7.7L25.2 7.7Q23.4 3.2 18.9 3.0L7.4 3.0L15.2 17.5L5.4 34.0L21.9 34.0Q25.9 33.7 27.4 28.7L29.0 28.7L26.7 37.9L0 37.9L11.1 19.0Z" fill="#000"/><text x="217.60" y="79.60" font-size="23.6" text-anchor="start" fill="#000" stroke="#000" stroke-width="0.3" >p</text><text x="230.70" y="102.50" font-size="16.4" text-anchor="start" fill="#000" stroke="#000" stroke-width="0.3" >T</text><text x="247.20" y="79.60" font-size="23.6" text-anchor="start" fill="#000" stroke="#000" stroke-width="0.3" >density vs. p</text><text x="377.60" y="69.10" font-size="15.5" text-anchor="start" fill="#000" stroke="#000" stroke-width="0.3" >trk1</text><text x="377.60" y="93.50" font-size="16.4" text-anchor="start" fill="#000" stroke="#000" stroke-width="0.3" >T</text><text x="402.50" y="79.60" font-size="23.6" text-anchor="start" fill="#000" stroke="#000" stroke-width="0.3" >,</text><path d="M417.0 66.6L418.9 66.6L420.6 79.0L423.0 60.0L436.9 60.0L436.9 61.3L424.0 61.3L420.4 81.5L419.4 81.5Z" fill="#000"/><text x="424.80" y="79.60" font-size="23.6" text-anchor="start" fill="#000" stroke="#000" stroke-width="0.3" >s</text><text x="443.50" y="79.60" font-size="23.6" text-anchor="start" fill="#000" stroke="#000" stroke-width="0.3" >=</text><text x="466.30" y="79.60" font-size="23.6" text-anchor="start" fill="#000" stroke="#000" stroke-width="0.3" >{7 TeV},</text><text x="555.30" y="79.60" font-size="23.6" text-anchor="start" fill="#000" stroke="#000" stroke-width="0.3" >p</text><text x="568.50" y="93.80" font-size="16.4" text-anchor="start" fill="#000" stroke="#000" stroke-width="0.3" >T</text><text x="586.00" y="81.60" font-size="23.6" text-anchor="start" fill="#000" stroke="#000" stroke-width="0.3" >&gt;</text><text x="605.40" y="79.60" font-size="24.1" text-anchor="start" fill="#000" stroke="#000" stroke-width="0.3" >{100 MeV}</text><g transform="translate(26.4,288) rotate(-90)"><text x="-0.60" y="0.30" font-size="23.8" text-anchor="start" fill="#000" stroke="#000" stroke-width="0.3" >#</text><path d="M20.2 -18.5L14.2 -7.8L20.0 3.1" fill="none" stroke="#000" stroke-width="1.3"/><text x="21.00" y="0.00" font-size="25.2" text-anchor="start" fill="#000" stroke="#000" stroke-width="0.3" >d</text><text x="33.70" y="-11.00" font-size="16.4" text-anchor="start" fill="#000" stroke="#000" stroke-width="0.3" >2</text><path transform="translate(49.5,-25.8)" d="M0 0L24.4 0L26.5 7.7L25.2 7.7Q23.4 3.2 18.9 3.0L7.4 3.0L15.2 17.5L5.4 34.0L21.9 34.0Q25.9 33.7 27.4 28.7L29.0 28.7L26.7 37.9L0 37.9L11.1 19.0Z" fill="#000"/><text x="84.00" y="0.00" font-size="25.2" text-anchor="start" fill="#000" stroke="#000" stroke-width="0.3" >p</text><text x="96.50" y="21.70" font-size="16.4" text-anchor="start" fill="#000" stroke="#000" stroke-width="0.3" >T</text><text x="107.50" y="0.00" font-size="25.2" text-anchor="start" fill="#000" stroke="#000" stroke-width="0.3" >/d</text><text x="127.50" y="0.00" font-size="25.2" text-anchor="start" fill="#000" stroke="#000" stroke-width="0.3" >η</text><text x="142.00" y="0.00" font-size="25.2" text-anchor="start" fill="#000" stroke="#000" stroke-width="0.3" >d</text><ellipse cx="160.3" cy="-6.4" rx="4.4" ry="5.0" fill="none" stroke="#000" stroke-width="2.0"/><line x1="160.4" y1="-16.6" x2="160.4" y2="4.5" stroke="#000" stroke-width="1.2"/><text x="167.00" y="0.30" font-size="23.8" text-anchor="start" fill="#000" stroke="#000" stroke-width="0.3" >#</text><path d="M181.2 -18.5L186.9 -7.8L181.2 2.9" fill="none" stroke="#000" stroke-width="1.3"/><text x="193.50" y="0.00" font-size="25.2" text-anchor="start" fill="#000" stroke="#000" stroke-width="0.3" >[GeV]</text></g><text x="484.60" y="1002.90" font-size="25.2" text-anchor="start" fill="#000" stroke="#000" stroke-width="0.3" >p</text><text x="498.50" y="1016.50" font-size="16.4" text-anchor="start" fill="#000" stroke="#000" stroke-width="0.3" >T</text><text x="516.00" y="1002.90" font-size="25.2" text-anchor="start" fill="#000" stroke="#000" stroke-width="0.3" >(leading track) [GeV]</text></g></svg></body></html>
